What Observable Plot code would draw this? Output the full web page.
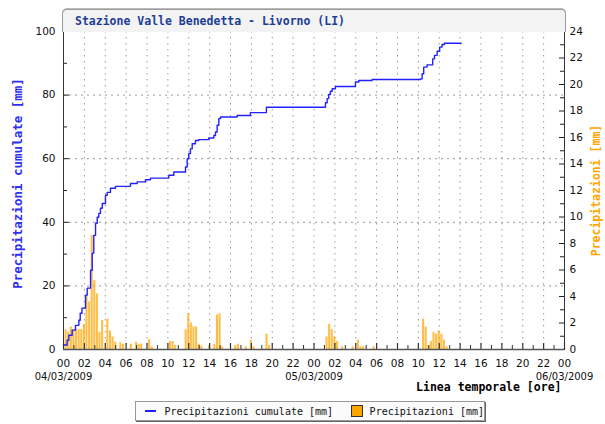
<!DOCTYPE html>
<html>
<head>
<meta charset="utf-8">
<script src="https://cdn.jsdelivr.net/npm/d3@7"></script>
<script src="https://cdn.jsdelivr.net/npm/@observablehq/plot@0.6"></script>
<style>
  html, body { margin: 0; padding: 0; background: #fff; overflow: hidden; }
  #wrap { position: relative; width: 605px; height: 424px; background: #fff; }
  #chart { position: absolute; left: 0; top: 0; }
  #title {
    position: absolute; left: 62px; top: 9px; width: 504px; height: 23px; box-sizing: border-box;
    border: 1px solid #9a9a9a; border-bottom: none; border-radius: 5px 5px 0 0;
    background: #f3f3f3; box-shadow: 0 -1px 0 #bbb;
    font: bold 11.5px "DejaVu Sans Mono", monospace; color: #1d3e96;
    padding-left: 12px; line-height: 22px; white-space: nowrap;
  }
  #legend {
    position: absolute; left: 135px; top: 401px; width: 350px; height: 20px; box-sizing: border-box;
    border: 1px solid #999; box-shadow: 1px 1px 0 #666; background: #fbfbfb;
    font: 10px "DejaVu Sans Mono", monospace; color: #111; white-space: nowrap;
    display: flex; align-items: center;
  }
  .sw-line { display: inline-block; width: 12px; height: 2px; background: #2020ff; margin: 0 8px 0 9px; }
  .sw-box { display: inline-block; width: 10px; height: 10px; background: #ffa500; border: 1px solid #333; margin: 0 7px 0 18px; }
</style>
</head>
<body>
<div id="wrap">
  <div id="chart"></div>
  <div id="title"></div>
  <div id="legend"></div>
</div>
<script>
// ---- Data (hours from 04/03/2009 00:00) ----
const titleText = "Stazione Valle Benedetta - Livorno (LI)";

// Cumulative precipitation (mm) - step points
const cumHours = [0,0.35,0.51,0.83,1.15,1.47,1.6,1.77,2.11,2.27,
  2.59,2.75,2.9,3.07,3.23,3.38,3.54,3.71,4.02,4.19,
  4.5,4.98,6.42,7.06,7.85,8.33,10.09,10.57,11.69,11.85,
  12.0,12.16,12.33,12.64,12.96,13.92,14.4,14.56,14.72,14.88,
  15.04,16.64,17.91,19.44,25.1,25.26,25.41,25.57,25.74,26.05,
  27.97,28.29,29.57,34.2,34.36,34.51,34.83,35.37,35.54,35.8,
  36.04,36.27,36.49,38.1];
const cumValues = [1.4,2.9,4.5,6.1,7.6,9.2,11.4,13.0,17.1,19.3,
  24.9,30.3,35.9,39.7,41.6,42.8,44.4,45.9,48.5,49.4,
  50.7,51.3,52.2,52.7,53.4,53.9,54.8,55.8,57.4,60.0,
  61.6,63.1,64.7,65.7,66.0,66.5,67.3,68.4,70.5,72.6,
  73.1,73.6,74.5,76.2,77.6,78.9,80.2,81.2,82.0,82.7,
  84.1,84.6,84.9,85.1,86.7,88.8,89.5,91.4,92.5,93.8,
  95.1,95.9,96.3,96.3];

// 15-minute precipitation (mm)
const barHours = [0.25,0.5,0.75,1.0,1.25,1.5,1.75,2.0,
  2.25,2.5,2.75,3.0,3.25,3.5,3.75,4.25,
  4.5,4.75,5.0,5.5,5.75,
  6.5,7.0,7.25,7.5,8.25,8.5,
  10.25,10.5,10.75,
  11.75,12.0,12.25,12.5,12.75,13.0,13.25,
  14.0,14.5,14.75,15.0,15.25,
  16.5,16.75,17.5,18.0,18.25,
  19.5,19.75,
  25.25,25.5,25.75,26.0,26.25,26.75,
  27.75,28.25,28.5,28.75,29.75,
  34.5,34.75,35.0,35.25,35.5,35.75,36.0,36.25,36.5,36.75];
const barValues = [1.5,1.3,1.7,1.5,1.5,1.5,1.5,1.9,
  4.1,3.6,8.6,5.2,4.2,1.3,2.2,2.3,
  1.4,0.95,0.55,0.5,0.4,
  0.4,0.55,0.4,0.4,0.75,0.2,
  0.6,0.6,0.3,
  1.5,2.7,2.0,1.7,1.7,0.4,0.25,
  0.3,0.4,2.6,2.7,0.2,
  0.3,0.4,0.2,0.7,0.2,
  1.15,0.3,
  0.95,1.9,1.5,0.95,0.6,0.2,
  0.2,0.7,0.2,0.2,0.2,
  2.3,1.7,0.3,0.6,1.3,1.15,1.4,1.15,0.7,0.2];

// Axes
const xDomain = [0, 48];
const xLabelTicks = d3.range(0, 49, 2);      // every 2 hours
const xMinorTicks = d3.range(1, 48, 2);      // odd hours
const dateTicks = [0, 24, 48];
const dateLabels = ["04/03/2009", "05/03/2009", "06/03/2009"];
const yLeftLabels = [0, 20, 40, 60, 80, 100];
const yLeftMinor = [10, 30, 50, 70, 90];
const yGrid = [20, 40, 60, 80];
const yRightLabels = d3.range(0, 25, 2);
const yRightMinor = d3.range(1, 24, 2);
const yRightMax = 24;
const xTitle = "Linea temporale [ore]";
const yTitle = "Precipitazioni cumulate [mm]";
const y2Title = "Precipitazioni [mm]";
const legendLabels = ["Precipitazioni cumulate [mm]", "Precipitazioni [mm]"];

// ---- Build ----
const cum = cumHours.map((h, i) => ({h, v: cumValues[i]}));
const bars = barHours.map((h, i) => ({h, v: barValues[i]}));
const k = 100 / yRightMax; // right scale -> left scale

const W = 605, H = 424, mL = 63, mR = 41, mT = 31, mB = 75;
const plotW = W - mL - mR, plotH = H - mT - mB;
const mono = "DejaVu Sans Mono";

const chart = Plot.plot({
  width: W, height: H,
  marginLeft: mL, marginRight: mR, marginTop: mT, marginBottom: mB,
  style: {background: "transparent", fontFamily: "DejaVu Sans", fontSize: "10px", color: "#111", overflow: "visible"},
  x: {domain: xDomain},
  y: {domain: [0, 100]},
  marks: [
    Plot.gridX(xLabelTicks.slice(1, -1), {stroke: "#9a9a9a", strokeOpacity: 1, strokeDasharray: "1.5,4.5"}),
    Plot.gridY(yGrid, {stroke: "#9a9a9a", strokeOpacity: 1, strokeDasharray: "2,4"}),
    Plot.rectY(bars, {x1: d => d.h - 0.1, x2: d => d.h + 0.1, y: d => d.v * k, fill: "#ffa500", fillOpacity: 0.72}),
    Plot.line(cum, {x: "h", y: "v", curve: "step-after", stroke: "#2222ff", strokeWidth: 1.4}),
    // inward ticks
    Plot.ruleX(xLabelTicks, {x: d => d, insetTop: plotH - 6, stroke: "#333", strokeWidth: 1.2}),
    Plot.ruleX(xMinorTicks, {x: d => d, insetTop: plotH - 4, stroke: "#333"}),
    Plot.ruleY(yLeftLabels, {y: d => d, insetRight: plotW - 6, stroke: "#222"}),
    Plot.ruleY(yLeftMinor, {y: d => d, insetRight: plotW - 4, stroke: "#222"}),
    Plot.ruleY(yRightLabels, {y: d => d * k, insetLeft: plotW - 5, stroke: "#222"}),
    Plot.ruleY(yRightMinor, {y: d => d * k, insetLeft: plotW - 4, stroke: "#222"}),
    Plot.frame({stroke: "#333"}),
    Plot.ruleY([0], {stroke: "#555", strokeWidth: 1.5}),
    // axis labels
    Plot.axisX(xLabelTicks, {tickSize: 0, tickPadding: 10, tickFormat: d => String(d % 24).padStart(2, "0"), label: null, fontSize: 10.5}),
    Plot.axisY(yLeftLabels, {anchor: "left", tickSize: 0, tickPadding: 8, label: null, fontSize: 10.5}),
    Plot.axisY(yRightLabels.map(d => d * k), {anchor: "right", tickSize: 0, tickPadding: 5, tickFormat: d => Math.round(d / k), label: null, fontSize: 10.5}),
    Plot.text(dateTicks, {x: d => d, text: (d, i) => dateLabels[i], frameAnchor: "bottom", dy: 23, lineAnchor: "top", fontSize: 10}),
    Plot.text([xTitle], {frameAnchor: "bottom-right", dx: -3, dy: 33, lineAnchor: "top", textAnchor: "end", fontFamily: mono, fontWeight: "bold", fontSize: 11.5, fill: "#000"}),
    Plot.text([yTitle], {frameAnchor: "left", rotate: -90, dx: -46, dy: -7, textAnchor: "middle", lineAnchor: "middle", fontFamily: mono, fontWeight: "bold", fontSize: 12.5, fill: "#3030f0"}),
    Plot.text([y2Title], {frameAnchor: "right", rotate: -90, dx: 32, textAnchor: "middle", lineAnchor: "middle", fontFamily: mono, fontWeight: "bold", fontSize: 11.5, fill: "#ffa500"})
  ]
});
document.getElementById("chart").appendChild(chart);
document.getElementById("title").textContent = titleText;
document.getElementById("legend").innerHTML =
  `<span class="sw-line"></span><span>${legendLabels[0]}</span><span class="sw-box"></span><span>${legendLabels[1]}</span>`;
</script>
</body>
</html>
